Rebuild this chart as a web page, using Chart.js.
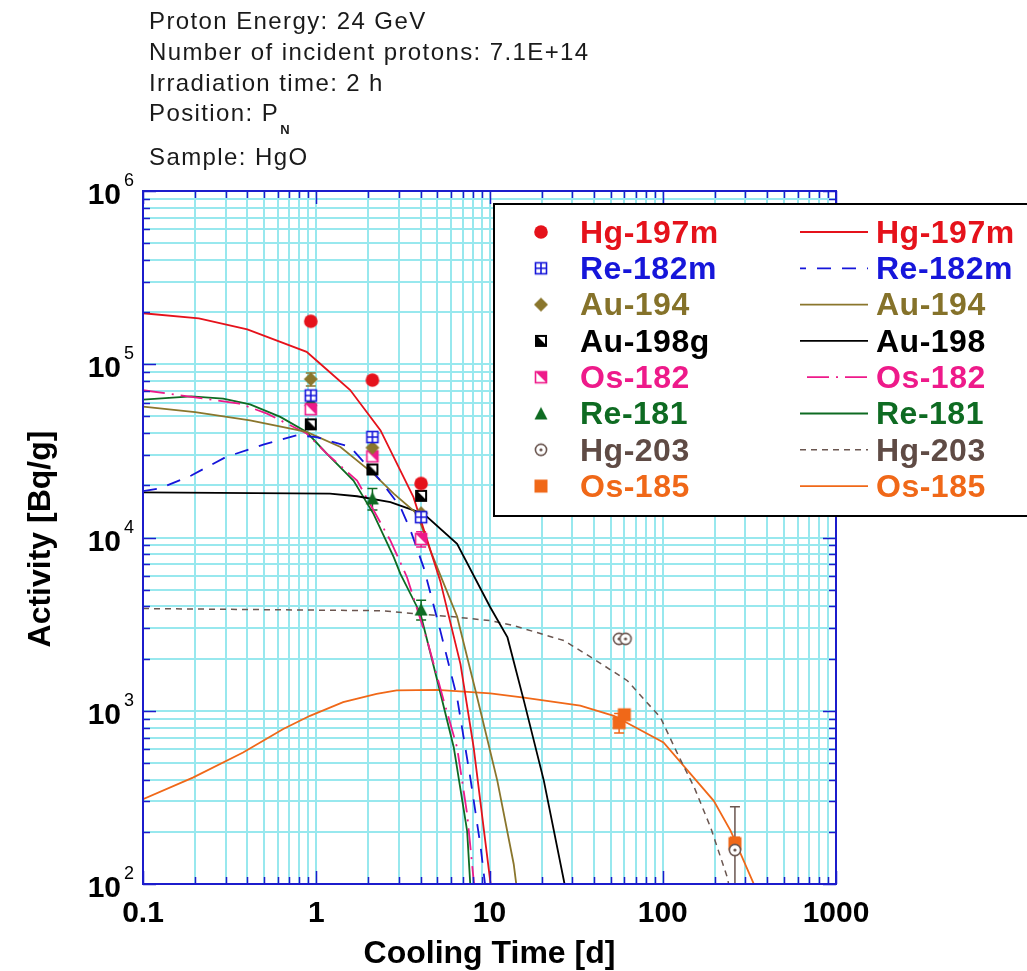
<!DOCTYPE html>
<html>
<head>
<meta charset="utf-8">
<title>HgO activity vs cooling time</title>
<script src="https://cdn.jsdelivr.net/npm/chart.js@4.4.1/dist/chart.umd.min.js"></script>
<style>
  html, body { margin: 0; padding: 0; background: #fff; }
  #wrap { width: 1027px; height: 971px; }
</style>
</head>
<body>
<div id="wrap"><canvas id="activityChart" width="1027" height="971"></canvas></div>
<script>
// ---- measured activities [Bq/g] ----
const measTimes = [0.93, 2.11, 4.03];
const hg197mMeas = [1.77e5, 8.1e4, 2.05e4];
const re182mMeas = [6.6e4, 3.8e4, 1.31e4];
const au194Meas = [8.2e4, 3.3e4, 1.38e4];
const au198gMeas = [4.5e4, 2.47e4, 1.74e4];
const os182Meas = [5.5e4, 2.94e4, 9.8e3];
const re181Meas = [6.2e4, 1.68e4, 3.84e3];
const hg203MeasT = [56, 61, 261];
const hg203Meas = [2.6e3, 2.6e3, 157];
const os185MeasT = [56, 60, 261];
const os185Meas = [853, 948, 171];

// error bars (absolute, null = none)
const au194Err = [7e3, null, null];
const re181Err = [null, 2.4e3, 0.5e3];
const os182Err = [null, null, 1.0e3];
const hg203Err = [null, null, 122];
const os185Err = [110, null, 15];

// ---- calculated curves ----
const hg197mCalcT = [0.1, 0.21, 0.4, 0.88, 1.05, 1.57, 2.35, 3.64, 5.2, 6.8, 8.1, 10.1, 10.5];
const hg197mCalcA = [1.97e5, 1.84e5, 1.59e5, 1.18e5, 1.01e5, 7.1e4, 4.15e4, 1.71e4, 5.6e3, 1.86e3, 614, 104, 78];
const re182mCalcT = [0.1, 0.125, 0.19, 0.3, 0.5, 0.77, 1.0, 1.57, 2.35, 3.06, 3.5, 4.17, 5.2, 6.5, 7.8, 8.9, 9.6];
const re182mCalcA = [1.85e4, 1.92e4, 2.28e4, 2.91e4, 3.45e4, 3.89e4, 3.8e4, 3.33e4, 2.13e4, 1.5e4, 1.1e4, 6.7e3, 2.9e3, 1.19e3, 393, 162, 85];
const au194CalcT = [0.1, 0.2, 0.415, 0.88, 1.38, 2.14, 2.8, 3.82, 4.56, 6.5, 8.5, 11.1, 13.8, 14.5];
const au194CalcA = [5.7e4, 5.3e4, 4.74e4, 4.07e4, 3.33e4, 2.33e4, 1.79e4, 1.37e4, 8.4e3, 3.5e3, 1.19e3, 394, 130, 88];
const au198CalcT = [0.1, 1.2, 1.72, 2.68, 4.17, 6.5, 10.1, 12.7, 15.8, 20.6, 26.9, 27.8];
const au198CalcA = [1.82e4, 1.79e4, 1.73e4, 1.6e4, 1.37e4, 9.2e3, 3.96e3, 2.65e3, 1.14e3, 394, 104, 88];
const os182CalcT = [0.1, 0.15, 0.36, 0.52, 0.88, 1.15, 1.72, 2.68, 3.34, 4.37, 5.45, 6.5, 7.43, 8.11, 8.4];
const os182CalcA = [7.08e4, 6.7e4, 5.93e4, 5.19e4, 3.98e4, 3.05e4, 2.13e4, 9.6e3, 5.9e3, 2.54e3, 1.14e3, 614, 253, 104, 85];
const re181CalcT = [0.1, 0.19, 0.29, 0.415, 0.62, 0.88, 1.15, 1.64, 2.14, 2.8, 3.06, 4.0, 5.0, 6.22, 7.43, 7.8];
const re181CalcA = [6.25e4, 6.53e4, 6.34e4, 5.87e4, 4.97e4, 4.06e4, 3.05e4, 2.13e4, 1.37e4, 7.7e3, 6.16e3, 3.62e3, 1.49e3, 614, 202, 88];
const hg203CalcT = [0.1, 2.35, 6.5, 10.1, 13.8, 26.9, 40, 62.5, 97, 122, 152, 189, 236, 246];
const hg203CalcA = [3.89e3, 3.78e3, 3.47e3, 3.31e3, 3.1e3, 2.54e3, 1.99e3, 1.49e3, 914, 562, 361, 212, 109, 88];
const os185CalcT = [0.1, 0.194, 0.378, 0.645, 0.92, 1.43, 2.23, 2.91, 5.0, 10.1, 15.8, 33.4, 52.2, 101, 197, 247, 336, 350];
const os185CalcA = [309, 411, 574, 784, 935, 1120, 1250, 1310, 1320, 1260, 1190, 1070, 935, 656, 302, 202, 99.6, 88];

const measLabels = ["Hg-197m", "Re-182m", "Au-194", "Au-198g", "Os-182", "Re-181", "Hg-203", "Os-185"];
const calcLabels = ["Hg-197m", "Re-182m", "Au-194", "Au-198", "Os-182", "Re-181", "Hg-203", "Os-185"];
const xTickLabels = ["0.1", "1", "10", "100", "1000"];
const yTickExps = ["2", "3", "4", "5", "6"];
const headerLines = ["Proton Energy: 24 GeV", "Number of incident protons: 7.1E+14", "Irradiation time: 2 h", "Position: P", "Sample: HgO"];

const colors = ["#e5121b", "#1616da", "#8a762c", "#000000", "#ee1a8a", "#0e6b22", "#6a5650", "#f06818"];
const textColors = ["#e5121b", "#1616da", "#85722a", "#000000", "#ee1a8a", "#0e6b22", "#5f4b45", "#f06818"];

function pts(ts, as) {
  return ts.map((t, i) => ({ x: t, y: as[i] }));
}

// small canvases used as point styles
function makeMarker(kind, color) {
  const c = document.createElement("canvas");
  c.width = 16;
  c.height = 16;
  const g = c.getContext("2d");
  g.fillStyle = color;
  g.strokeStyle = color;
  g.lineWidth = 1.6;
  if (kind === "circle") {
    g.beginPath();
    g.arc(8, 8, 6.8, 0, Math.PI * 2);
    g.fill();
  } else if (kind === "boxcross") {
    g.fillStyle = "#fff";
    g.fillRect(2.5, 2.5, 11, 11);
    g.strokeRect(2.5, 2.5, 11, 11);
    g.beginPath();
    g.moveTo(8, 2.5); g.lineTo(8, 13.5);
    g.moveTo(2.5, 8); g.lineTo(13.5, 8);
    g.stroke();
  } else if (kind === "diamond") {
    g.beginPath();
    g.moveTo(8, 1); g.lineTo(15, 8); g.lineTo(8, 15); g.lineTo(1, 8);
    g.closePath();
    g.fill();
  } else if (kind === "halfblack") {
    g.fillRect(2, 2, 12, 12);
    g.fillStyle = "#fff";
    g.beginPath();
    g.moveTo(5, 4); g.lineTo(12, 4); g.lineTo(12, 11);
    g.closePath();
    g.fill();
  } else if (kind === "halfpink") {
    g.fillStyle = "#fff";
    g.fillRect(2.5, 2.5, 11, 11);
    g.fillStyle = color;
    g.beginPath();
    g.moveTo(2.5, 2.5); g.lineTo(13.5, 2.5); g.lineTo(13.5, 13.5);
    g.closePath();
    g.fill();
    g.strokeRect(2.5, 2.5, 11, 11);
  } else if (kind === "triangle") {
    g.beginPath();
    g.moveTo(8, 1.5); g.lineTo(14.5, 14); g.lineTo(1.5, 14);
    g.closePath();
    g.fill();
  } else if (kind === "ringdot") {
    g.fillStyle = "#fff";
    g.beginPath();
    g.arc(8, 8, 5.6, 0, Math.PI * 2);
    g.fill();
    g.stroke();
    g.fillStyle = color;
    g.beginPath();
    g.arc(8, 8, 1.6, 0, Math.PI * 2);
    g.fill();
  } else {
    g.fillRect(1.5, 1.5, 13, 13);
  }
  return c;
}

const markerKinds = ["circle", "boxcross", "diamond", "halfblack", "halfpink", "triangle", "ringdot", "square"];
const markers = markerKinds.map((k, i) => makeMarker(k, colors[i]));

const measSets = [
  pts(measTimes, hg197mMeas),
  pts(measTimes, re182mMeas),
  pts(measTimes, au194Meas),
  pts(measTimes, au198gMeas),
  pts(measTimes, os182Meas),
  pts(measTimes, re181Meas),
  pts(hg203MeasT, hg203Meas),
  pts(os185MeasT, os185Meas),
];
const measErrs = [null, null, au194Err, null, os182Err, re181Err, hg203Err, os185Err];

const calcSets = [
  pts(hg197mCalcT, hg197mCalcA),
  pts(re182mCalcT, re182mCalcA),
  pts(au194CalcT, au194CalcA),
  pts(au198CalcT, au198CalcA),
  pts(os182CalcT, os182CalcA),
  pts(re181CalcT, re181CalcA),
  pts(hg203CalcT, hg203CalcA),
  pts(os185CalcT, os185CalcA),
];
const calcDash = [[], [14, 11], [], [], [22, 7, 2, 7], [], [6, 5], []];
const calcWidth = [1.8, 1.8, 1.8, 1.8, 1.8, 1.8, 1.5, 1.8];

const datasets = [];
measSets.forEach((d, i) => {
  datasets.push({
    label: measLabels[i],
    data: d,
    showLine: false,
    pointStyle: markers[i],
    pointRadius: 6,
    borderColor: colors[i],
    backgroundColor: colors[i],
  });
});
calcSets.forEach((d, i) => {
  datasets.push({
    label: calcLabels[i],
    data: d,
    borderColor: colors[i],
    borderWidth: calcWidth[i],
    borderDash: calcDash[i],
    pointRadius: 0,
    fill: false,
    tension: 0,
  });
});

function decadeTicks(scale) {
  const ticks = [];
  const e0 = Math.round(Math.log10(scale.min));
  const e1 = Math.round(Math.log10(scale.max));
  for (let e = e0; e < e1; e++) {
    for (let m = 1; m < 10; m++) {
      ticks.push({ value: m * Math.pow(10, e), major: m === 1 });
    }
  }
  ticks.push({ value: scale.max, major: true });
  scale.ticks = ticks;
}

const gridColor = "#98e8ee";
const frameColor = "#1c1ccc";

const decorPlugin = {
  id: "decor",
  beforeDatasetsDraw(chart) {
    const ctx = chart.ctx;
    const a = chart.chartArea;
    const xs = chart.scales.x;
    const ys = chart.scales.y;
    ctx.save();
    ctx.beginPath();
    ctx.rect(a.left, a.top, a.right - a.left, a.bottom - a.top);
    ctx.clip();
    ctx.lineWidth = 1.5;
    measErrs.forEach((errs, i) => {
      if (!errs) return;
      ctx.strokeStyle = colors[i];
      measSets[i].forEach((p, j) => {
        if (errs[j] == null) return;
        const px = xs.getPixelForValue(p.x);
        const lo = Math.max(p.y - errs[j], 1);
        const yTop = ys.getPixelForValue(p.y + errs[j]);
        const yBot = ys.getPixelForValue(lo);
        ctx.beginPath();
        ctx.moveTo(px, yTop); ctx.lineTo(px, yBot);
        ctx.moveTo(px - 5, yTop); ctx.lineTo(px + 5, yTop);
        ctx.moveTo(px - 5, yBot); ctx.lineTo(px + 5, yBot);
        ctx.stroke();
      });
    });
    ctx.restore();
  },
  afterDatasetsDraw(chart) {
    const ctx = chart.ctx;
    const a = chart.chartArea;
    const xs = chart.scales.x;
    const ys = chart.scales.y;
    ctx.save();
    ctx.strokeStyle = frameColor;
    ctx.lineWidth = 2;
    ctx.strokeRect(a.left, a.top, a.right - a.left, a.bottom - a.top);
    ctx.lineWidth = 1.5;
    ctx.beginPath();
    xs.ticks.forEach((t) => {
      const px = Math.round(xs.getPixelForValue(t.value)) + 0.5;
      const len = t.major ? 13 : 7;
      ctx.moveTo(px, a.bottom); ctx.lineTo(px, a.bottom - len);
      ctx.moveTo(px, a.top); ctx.lineTo(px, a.top + len);
    });
    ys.ticks.forEach((t) => {
      const py = Math.round(ys.getPixelForValue(t.value)) + 0.5;
      const len = t.major ? 13 : 7;
      ctx.moveTo(a.left, py); ctx.lineTo(a.left + len, py);
      ctx.moveTo(a.right, py); ctx.lineTo(a.right - len, py);
    });
    ctx.stroke();
    ctx.restore();
  },
  afterDraw(chart) {
    const ctx = chart.ctx;
    const a = chart.chartArea;
    const xs = chart.scales.x;
    const ys = chart.scales.y;
    ctx.save();
    ctx.fillStyle = "#000";

    // x tick labels
    ctx.font = "bold 30px 'Liberation Sans', Arial, sans-serif";
    ctx.textAlign = "center";
    ctx.textBaseline = "alphabetic";
    xTickLabels.forEach((s) => {
      ctx.fillText(s, xs.getPixelForValue(parseFloat(s)), 922);
    });

    // y tick labels 10^n
    yTickExps.forEach((e) => {
      const py = ys.getPixelForValue(Math.pow(10, parseInt(e, 10)));
      ctx.font = "bold 30px 'Liberation Sans', Arial, sans-serif";
      ctx.textAlign = "right";
      ctx.fillText("10", 121, py + 13);
      ctx.font = "18px 'Liberation Sans', Arial, sans-serif";
      ctx.textAlign = "left";
      ctx.fillText(e, 124, py - 5);
    });

    // axis titles
    ctx.font = "bold 32px 'Liberation Sans', Arial, sans-serif";
    ctx.textAlign = "center";
    ctx.fillText("Cooling Time [d]", (a.left + a.right) / 2, 963);
    ctx.save();
    ctx.translate(50, 539);
    ctx.rotate(-Math.PI / 2);
    ctx.fillText("Activity [Bq/g]", 0, 0);
    ctx.restore();

    // header block
    ctx.fillStyle = "#1a1a1a";
    ctx.textAlign = "left";
    ctx.font = "24px 'Liberation Sans', Arial, sans-serif";
    ctx.letterSpacing = "1.4px";
    const baselines = [29, 60, 91, 121, 165];
    headerLines.forEach((s, i) => ctx.fillText(s, 149, baselines[i]));
    const pw = ctx.measureText(headerLines[3]).width;
    ctx.letterSpacing = "0px";
    ctx.font = "bold 13px 'Liberation Sans', Arial, sans-serif";
    ctx.fillText("N", 149 + pw + 1, 134);

    // legend box
    ctx.fillStyle = "#fff";
    ctx.fillRect(494, 204, 560, 312);
    ctx.strokeStyle = "#000";
    ctx.lineWidth = 2;
    ctx.strokeRect(494, 204, 560, 312);
    ctx.font = "bold 32px 'Liberation Sans', Arial, sans-serif";
    ctx.letterSpacing = "0.5px";
    ctx.textBaseline = "middle";
    measLabels.forEach((lab, i) => {
      const y = 232 + i * 36.3;
      const m = markers[i];
      ctx.drawImage(m, 541 - m.width / 2, y - m.height / 2);
      ctx.fillStyle = textColors[i];
      ctx.fillText(lab, 580, y + 2);
      ctx.save();
      ctx.strokeStyle = colors[i];
      ctx.lineWidth = calcWidth[i];
      ctx.setLineDash(calcDash[i]);
      if (i === 1) ctx.lineDashOffset = 8;
      if (i === 4) ctx.lineDashOffset = 31;
      ctx.beginPath();
      ctx.moveTo(800, y); ctx.lineTo(868, y);
      ctx.stroke();
      ctx.restore();
      ctx.fillText(calcLabels[i], 876, y + 2);
    });
    ctx.restore();
  },
};

const chart = new Chart(document.getElementById("activityChart"), {
  type: "line",
  data: { datasets: datasets },
  options: {
    responsive: false,
    devicePixelRatio: 1,
    animation: false,
    layout: { padding: { left: 143, right: 191, top: 191, bottom: 87 } },
    plugins: { legend: { display: false }, tooltip: { enabled: false } },
    scales: {
      x: {
        type: "logarithmic",
        min: 0.1,
        max: 1000,
        afterBuildTicks: decadeTicks,
        afterFit: (s) => { s.height = 0; },
        ticks: { display: false },
        border: { display: false },
        grid: { color: gridColor, lineWidth: 2, drawTicks: false },
      },
      y: {
        type: "logarithmic",
        min: 100,
        max: 1e6,
        afterBuildTicks: decadeTicks,
        afterFit: (s) => { s.width = 0; },
        ticks: { display: false },
        border: { display: false },
        grid: { color: gridColor, lineWidth: 2, drawTicks: false },
      },
    },
  },
  plugins: [decorPlugin],
});
</script>
</body>
</html>
